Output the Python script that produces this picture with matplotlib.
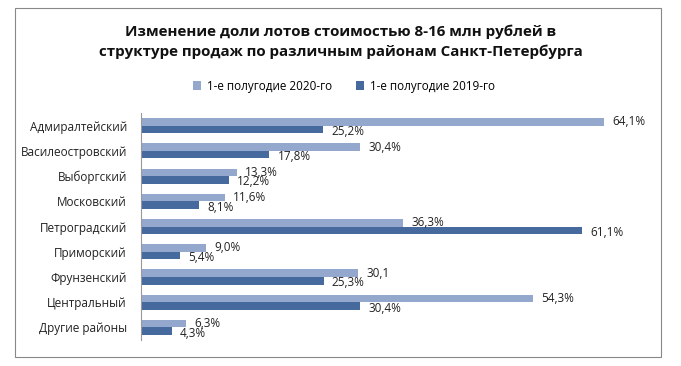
import numpy as np
import matplotlib.pyplot as plt
from matplotlib.patches import Rectangle

plt.rcParams['font.family'] = ['Open Sans', 'DejaVu Sans']

districts = ['Адмиралтейский', 'Василеостровский', 'Выборгский', 'Московский',
             'Петроградский', 'Приморский', 'Фрунзенский', 'Центральный', 'Другие районы']
share_2020 = [64.1, 30.4, 13.3, 11.6, 36.3, 9.0, 30.1, 54.3, 6.3]
share_2019 = [25.2, 17.8, 12.2, 8.1, 61.1, 5.4, 25.3, 30.4, 4.3]
labels_2020 = ['64,1%', '30,4%', '13,3%', '11,6%', '36,3%', '9,0%', '30,1', '54,3%', '6,3%']
labels_2019 = ['25,2%', '17,8%', '12,2%', '8,1%', '61,1%', '5,4%', '25,3%', '30,4%', '4,3%']

c2020 = '#94A8CE'
c2019 = '#46699E'

fig = plt.figure(figsize=(6.81, 3.66), dpi=100)
ax = fig.add_axes([0.2066, 0.071, 0.743, 0.62])

y = np.arange(len(districts))
h = 0.3
b1 = ax.barh(y - h / 2, share_2020, height=h, color=c2020, label='1-е полугодие 2020-го')
b2 = ax.barh(y + h / 2, share_2019, height=h, color=c2019, label='1-е полугодие 2019-го')

for bars, labs, dy in ((b1, labels_2020, 0), (b2, labels_2019, -1.5)):
    for r, t in zip(bars, labs):
        ax.annotate(t, (r.get_width(), r.get_y() + r.get_height() / 2),
                    xytext=(6, dy), textcoords='offset points',
                    ha='left', va='center', fontsize=8.5, color='#222222')

ax.set_xlim(0, 70)
ax.set_ylim(len(districts) - 0.5, -0.5)
ax.set_yticks(y)
ax.set_yticklabels(districts, fontsize=8.5, color='#222222')
ax.tick_params(axis='y', length=0, pad=10)
ax.set_xticks([])
for s in ['top', 'right', 'bottom']:
    ax.spines[s].set_visible(False)
ax.spines['left'].set_color('#999999')
ax.spines['left'].set_linewidth(0.8)

fig.text(0.5, 0.885, 'Изменение доли лотов стоимостью 8-16 млн рублей в\nструктуре продаж по различным районам Санкт-Петербурга',
         ha='center', va='center', fontsize=10.9, fontweight='bold', linespacing=1.5, color='#111111')

fig.legend(handles=[b1, b2], loc='center', bbox_to_anchor=(0.505, 0.765), ncol=2,
           frameon=False, fontsize=8.4, handlelength=0.7, handleheight=0.7,
           columnspacing=2.0, handletextpad=0.5)

fig.patches.append(Rectangle((15 / 681, 1 - 357 / 366), 646 / 681, 349 / 366,
                             transform=fig.transFigure, fill=False,
                             edgecolor='#888888', linewidth=0.8))

fig.savefig('out.png', dpi=100)
